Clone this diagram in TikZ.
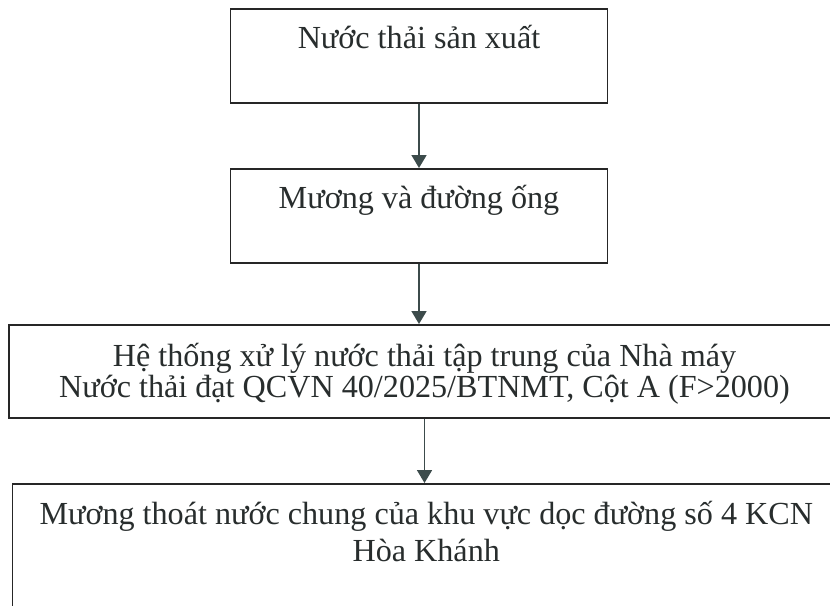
\documentclass[tikz,border=0pt]{standalone}
\usepackage{fontspec}
\setmainfont{Liberation Serif}
\usepackage{tikz}
\usetikzlibrary{positioning,arrows.meta}

\definecolor{inkgray}{RGB}{40,45,45}
\definecolor{arrowgray}{RGB}{60,75,75}

\begin{document}
\begin{tikzpicture}[
    x=0.02cm, y=-0.02cm,
    stage/.style={draw=black!85, line width=1pt, rectangle, inner sep=0pt, anchor=north,
      align=center, text=inkgray, font=\fontsize{18.3pt}{17.6pt}\selectfont},
    flow/.style={draw=arrowgray, line width=1pt, -{Triangle[length=0.26cm, width=0.3cm]}}
]

% Page frame
\useasboundingbox (0,0) rectangle (830,605);
\clip (0,0) rectangle (830,605);

% Define stage boxes
\node[stage, minimum width=7.54cm, text height=0.8cm, text depth=1.08cm] (src) at (419,8) {Nước thải sản xuất};
\node[stage, minimum width=7.54cm, text height=0.8cm, text depth=1.08cm] (pipe) at (419,168) {Mương và đường ống};
\node[stage, minimum width=16.62cm, text height=1.46cm, text depth=0.4cm] (plant) at (424.5,324)
    {Hệ thống xử lý nước thải tập trung của Nhà máy\\Nước thải đạt QCVN 40/2025/BTNMT, Cột A (F>2000)};
\node[stage, minimum width=16.55cm, text height=1.56cm, text depth=0.98cm] (drain) at (426.25,483)
    {Mương thoát nước chung của khu vực dọc đường số 4 KCN\\[3.4pt]Hòa Khánh};

% Draw flow arrows
\draw[flow] (src) -- (pipe);
\draw[flow] (pipe.south) -- (pipe.south |- plant.north);
\draw[flow] (plant.south) -- (plant.south |- drain.north);

\end{tikzpicture}
\end{document}
